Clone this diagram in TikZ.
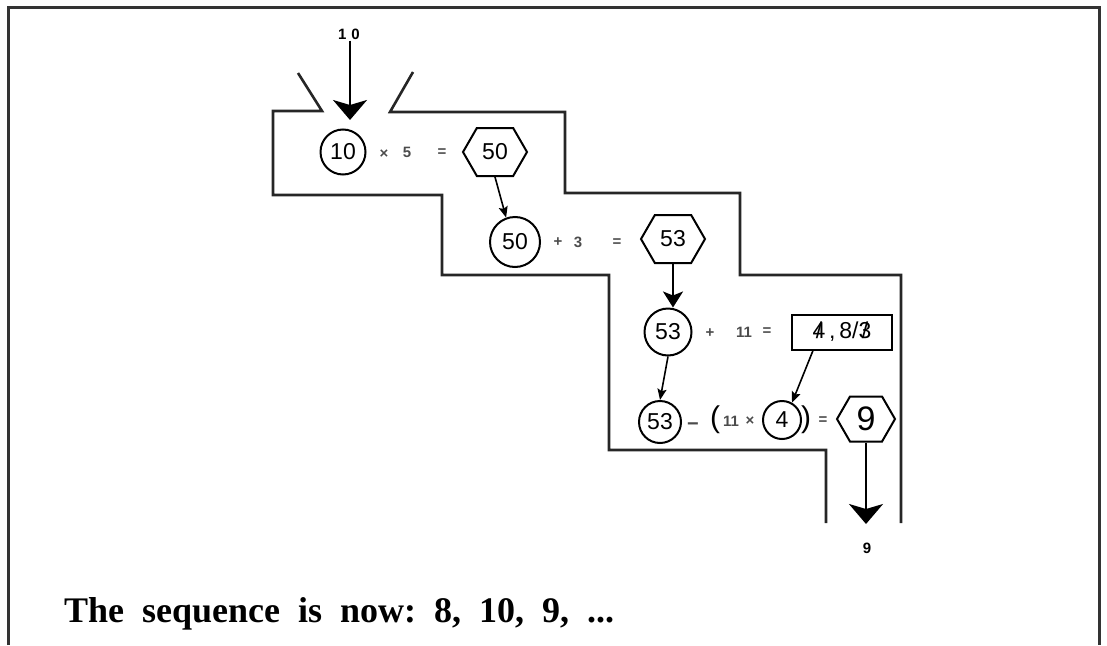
\documentclass[tikz,border=0pt]{standalone}
\usepackage{fontspec}
\usepackage{graphicx}
\setmainfont{Liberation Serif}
\newfontfamily\capfont[WordSpace=2]{Liberation Serif}
\newfontfamily\hand{Liberation Sans}
\usetikzlibrary{arrows.meta,shapes.symbols}
\begin{document}
\begin{tikzpicture}[x=1pt,y=-1pt,
  wall/.style={line width=2.6pt, black!85, line join=miter},
  ring/.style={circle, draw, line width=2pt, minimum size=#1, inner sep=0pt,
    font=\hand\fontsize{23}{23}\selectfont},
  hexa/.style={signal, signal to=east and west, signal pointer angle=120, draw,
    line width=2pt, minimum height=48pt, minimum width=64pt, inner sep=0pt,
    font=\hand\fontsize{23}{23}\selectfont},
  rbox/.style={draw, line width=2pt, minimum width=100pt, minimum height=35pt,
    inner sep=0pt, font=\hand\fontsize{23}{23}\selectfont},
  op/.style={font=\hand\bfseries\fontsize{15}{15}\selectfont, text=black!70, inner sep=0pt},
  paren/.style={font=\hand\fontsize{30}{30}\selectfont, inner sep=0pt},
  lab/.style={font=\hand\bfseries\fontsize{15}{15}\selectfont, inner sep=1pt},
  big/.style={line width=2pt, -{Stealth[length=20pt,width=34pt,inset=5pt]}},
  mid/.style={line width=2pt, -{Stealth[length=16pt,width=20pt,inset=4pt]}},
  small/.style={line width=1.6pt, -{Stealth[length=11pt,width=9pt,inset=2pt]}}
]
\useasboundingbox (0,0) rectangle (1107,645);
% outer frame
\draw[line width=3pt, black!80] (8,645) -- (8,7) -- (1099,7) -- (1099,645);
% staircase walls
\draw[wall] (298,73) -- (322,111) -- (273,111) -- (273,195) -- (442,195) -- (442,275)
  -- (609,275) -- (609,450) -- (826,450) -- (826,523);
\draw[wall] (413,72) -- (390,112) -- (565,112) -- (565,193) -- (740,193) -- (740,275)
  -- (901,275) -- (901,523);

% input
\node[lab] (t10) at (349,34) {1\,\,0};
\coordinate (in) at (350,120);
\draw[big] (t10.south -| in) -- (in);

% row 1
\node[ring=45pt] (c10) at (343,152) {10};
\node[op] (m1) at (384,154) {\texttimes};
\node[op] (f5) at (407,152) {5};
\node[op] (e1) at (442,153) {=};
\node[hexa] (h50) at (495,152) {50};

% row 2
\node[ring=50pt] (c50) at (515,242) {50};
\node[op] (p3) at (558,242) {+};
\node[op] (f3) at (578,242) {3};
\node[op] (e2) at (617,243) {=};
\node[hexa] (h53) at (673,239) {53};

% row 3
\node[ring=47pt] (c53) at (668,332) {53};
\node[op] (p11) at (710,333) {+};
\node[op] (n11) at (744,332) {11};
\node[op] (e3) at (767,332) {=};
\node[rbox] (r48) at (842,332) {\ooalign{4\cr\hidewidth/\hidewidth}\,,\,8/\ooalign{3\cr\hidewidth/\hidewidth}};

% row 4
\node[ring=42pt] (d53) at (660,422) {53};
\node[op, font=\hand\bfseries\fontsize{20}{20}\selectfont] (m4) at (693,427) {−};
\node[paren] (lp) at (715,420) {(};
\node[op] (n11b) at (731,421) {11};
\node[op] (x11) at (750,421) {\texttimes};
\node[ring=38pt] (c4) at (782,420) {4};
\node[paren] (rp) at (806,420) {)};
\node[op] (e4) at (823,421) {=};
\node[hexa, minimum width=58pt, minimum height=45pt, font=\hand\fontsize{34}{34}\selectfont] (h9) at (866,419) {9};
\coordinate (out) at (866,524);
\node[lab] (l9) at (867,548) {9};

% connectors
\draw[small] (h50.south) -- (c50.110);
\draw[mid] (h53.south) -- (h53.south |- c53.north);
\draw[small] (c53.south) -- (d53.north);
\draw[small] ([xshift=-29pt]r48.south) -- (c4.60);
\draw[big] (h9.south) -- (out);

% caption
\node[anchor=base west, inner sep=0pt, font=\capfont\bfseries\fontsize{36}{36}\selectfont\frenchspacing]
  (cap) at (64,622) {The sequence is now: 8, 10, 9, ...};
\end{tikzpicture}
\end{document}
